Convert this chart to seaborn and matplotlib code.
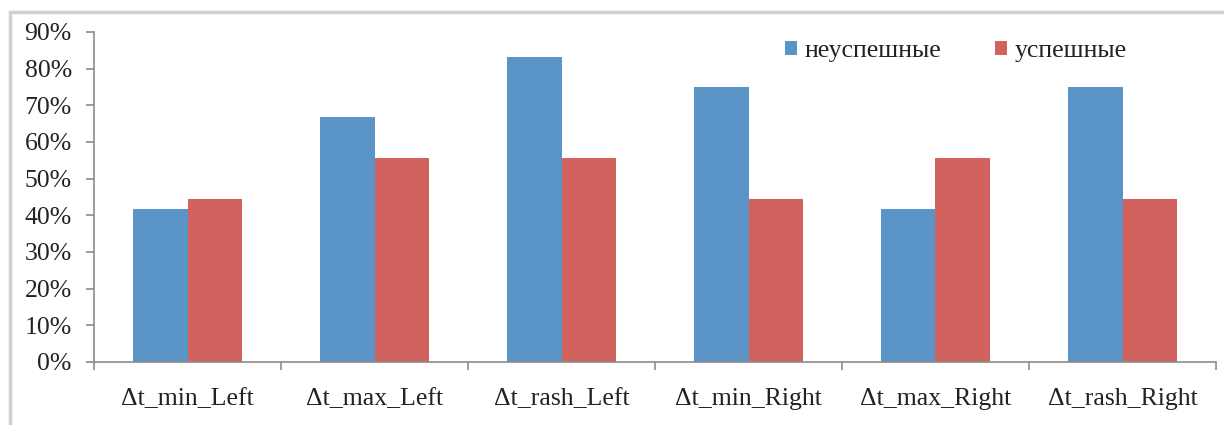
import matplotlib
matplotlib.use("Agg")
import matplotlib.pyplot as plt
import seaborn as sns
import pandas as pd
from matplotlib.patches import Rectangle
from matplotlib.ticker import FixedLocator, PercentFormatter

categories = ["Δt_min_Left", "Δt_max_Left", "Δt_rash_Left",
              "Δt_min_Right", "Δt_max_Right", "Δt_rash_Right"]
unsuccessful = [41.7, 66.7, 83.3, 75.0, 41.7, 75.0]
successful = [44.4, 55.6, 55.6, 44.4, 55.6, 44.4]
series_names = ["неуспешные", "успешные"]
yticks = [0, 10, 20, 30, 40, 50, 60, 70, 80, 90]

df = pd.DataFrame({
    "cat": categories * 2,
    "val": unsuccessful + successful,
    "series": [series_names[0]] * len(categories) + [series_names[1]] * len(categories),
})

sns.set_theme(style="white")
plt.rcParams["font.family"] = ["Liberation Serif", "DejaVu Serif"]

FS = 18.5
fig = plt.figure(figsize=(12.24, 4.25), dpi=100)
ax = fig.add_axes([94/1224, 1-362/425, (1216-94)/1224, (362-32)/425])

palette = {series_names[0]: "#5B95C7", series_names[1]: "#D2625E"}
sns.barplot(data=df, x="cat", y="val", hue="series", palette=palette,
            width=0.58, saturation=1, edgecolor="none", linewidth=0, ax=ax,
            order=categories, hue_order=series_names)

ax.set_ylim(0, 90)
ax.set_xlim(-0.5, len(categories) - 0.5)
ax.set_yticks(yticks)
ax.yaxis.set_major_formatter(PercentFormatter(decimals=0))
ax.set_xlabel("")
ax.set_ylabel("")

for s in ["top", "right"]:
    ax.spines[s].set_visible(False)
for s in ["left", "bottom"]:
    ax.spines[s].set_color("#8c8c8c")
    ax.spines[s].set_linewidth(1.2)

ax.tick_params(axis="y", which="major", length=6, width=1.2, color="#8c8c8c",
               direction="out", labelsize=FS, labelcolor="#222222", pad=10, left=True)
ax.tick_params(axis="x", which="major", length=0, labelsize=FS, labelcolor="#222222", pad=19)
ax.xaxis.set_minor_locator(FixedLocator([i - 0.5 for i in range(len(categories) + 1)]))
ax.tick_params(axis="x", which="minor", length=6, width=1.2, color="#8c8c8c",
               direction="out", bottom=True)

leg = ax.legend(loc="upper left", bbox_to_anchor=((785-94)/1122, (362-40)/330), ncol=2,
                frameon=False, fontsize=FS, handlelength=0.45, handleheight=0.45,
                handletextpad=0.3, columnspacing=2.1, borderpad=0, borderaxespad=0)
for t in leg.get_texts():
    t.set_color("#222222")

fig.patches.append(Rectangle((10/1224, -0.1), 1.2, 1 - 12/425 + 0.1,
                             transform=fig.transFigure, fill=False,
                             edgecolor="#d0d0d0", linewidth=2.5, zorder=-1))

fig.savefig("out.png", dpi=100)
